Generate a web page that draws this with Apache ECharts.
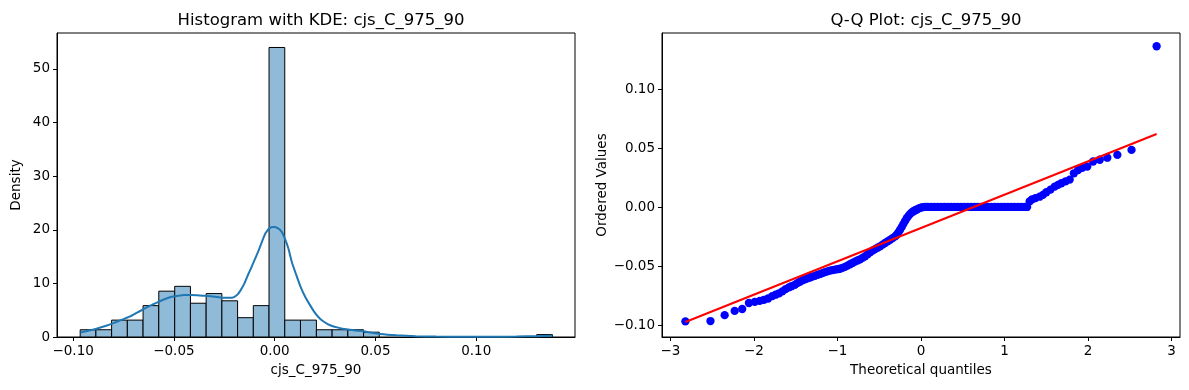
<!DOCTYPE html>
<html>
<head>
<meta charset="utf-8">
<script src="https://cdn.jsdelivr.net/npm/echarts@6/dist/echarts.min.js"></script>
<style>
html,body{margin:0;padding:0;background:#fff;}
#c{width:1189px;height:390px;}
</style>
</head>
<body>
<div id="c"></div>
<script>
// ---------- Histogram data ----------
const binEdges = [-0.0965,-0.0887,-0.0809,-0.0731,-0.0653,-0.0575,-0.0496,-0.0418,-0.0340,-0.0262,
  -0.0184,-0.0106,-0.0028,0.0050,0.0128,0.0207,0.0285,0.0363,0.0441,0.0519,
  0.0597,0.0675,0.0753,0.0831,0.0910,0.0988,0.1066,0.1144,0.1222,0.1300,0.1378];
const binDensity = [1.35,1.35,3.15,3.15,5.85,8.55,9.45,6.3,8.1,6.75,
  3.6,5.85,54.0,3.15,3.15,1.35,1.35,1.35,0.9,0,
  0,0,0,0,0,0,0,0,0,0.45];
// KDE curve
const kdeX = [-0.0963,-0.0920,-0.088,-0.084,-0.080,-0.076,-0.072,-0.0685,-0.065,-0.0615,-0.058,-0.055,-0.0516,-0.048,-0.045,-0.0417,-0.0384,-0.035,-0.0318,-0.0285,-0.0251,-0.022,-0.0202,-0.0185,-0.0171,-0.015,-0.013,-0.0113,-0.0097,-0.008,-0.0062,-0.0045,-0.0025,-0.0006,0.0015,0.0035,0.0052,0.0068,0.0085,0.0105,0.0126,0.015,0.0176,0.020,0.0225,0.0250,0.0275,0.0315,0.0357,0.040,0.044,0.048,0.0522,0.0605,0.070,0.080,0.090,0.100,0.110,0.120,0.130,0.1378];
const kdeY = [0.85,1.2,1.6,2.05,2.6,3.2,3.8,4.5,5.2,5.9,6.5,7.0,7.45,7.7,7.85,7.85,7.8,7.7,7.6,7.45,7.3,7.3,7.45,7.9,8.6,10.0,11.8,13.2,14.6,16.1,17.9,19.4,20.3,20.5,20.3,19.6,18.2,16.5,14.0,11.8,9.6,7.6,5.9,4.5,3.4,2.7,2.2,1.75,1.43,1.22,1.06,0.8,0.56,0.32,0.15,0.08,0.05,0.04,0.05,0.08,0.16,0.25];
const histXTicks = [-0.10,-0.05,0.00,0.05,0.10];
const histYTicks = [0,10,20,30,40,50];

// ---------- Q-Q data ----------
const qqTheoretical = [-2.82,-2.52,-2.35,-2.23,-2.14,-2.06,-1.99,-1.93,-1.88,-1.83,-1.78,-1.74,-1.70,-1.66,-1.62,-1.58,-1.55,-1.51,-1.48,-1.45,-1.42,-1.39,-1.36,-1.33,-1.30,-1.27,-1.24,-1.21,-1.18,-1.15,-1.12,-1.09,-1.06,-1.03,-1.00,-0.97,-0.94,-0.91,-0.88,-0.85,-0.82,-0.79,-0.76,-0.73,-0.70,-0.67,-0.64,-0.61,-0.58,-0.55,-0.52,-0.49,-0.46,-0.43,-0.40,-0.37,-0.34,-0.31,-0.29,-0.27,-0.25,-0.23,-0.21,-0.19,-0.17,-0.15,-0.13,-0.11,-0.09,-0.07,-0.05,-0.03,-0.01,0.01,0.03,0.05,
  0.08,0.12,0.16,0.20,0.24,0.28,0.32,0.36,0.40,0.44,0.48,0.52,0.56,0.60,0.64,0.68,0.72,0.76,0.80,0.84,0.88,0.92,0.96,1.00,1.04,1.08,1.12,1.16,1.20,1.24,1.27,
  1.30,1.33,1.37,1.42,1.46,1.50,1.55,1.60,1.64,1.68,1.73,1.78,1.83,1.88,1.93,1.99,2.06,2.14,2.23,2.35,2.52,2.82];
const qqOrdered = [-0.0966,-0.0963,-0.0913,-0.0877,-0.0861,-0.0810,-0.0801,-0.0792,-0.0783,-0.0772,-0.0752,-0.0740,-0.0728,-0.0712,-0.0692,-0.0677,-0.0668,-0.0656,-0.0642,-0.0630,-0.0618,-0.0610,-0.0602,-0.0594,-0.0586,-0.0580,-0.0572,-0.0565,-0.0557,-0.0549,-0.0542,-0.0536,-0.0531,-0.0527,-0.0524,-0.0520,-0.0513,-0.0504,-0.0494,-0.0482,-0.0471,-0.0460,-0.0450,-0.0440,-0.0428,-0.0415,-0.0398,-0.0382,-0.0367,-0.0354,-0.0342,-0.0330,-0.0316,-0.0302,-0.0288,-0.0275,-0.0261,-0.0246,-0.0232,-0.0212,-0.0190,-0.0166,-0.0140,-0.0115,-0.0092,-0.0072,-0.0056,-0.0043,-0.0033,-0.0025,-0.0018,-0.0011,-0.0005,0.0000,0.0002,0.0003,
  0.0003,0.0003,0.0003,0.0003,0.0003,0.0003,0.0003,0.0003,0.0003,0.0003,0.0003,0.0003,0.0003,0.0003,0.0003,0.0003,0.0003,0.0003,0.0003,0.0003,0.0003,0.0003,0.0003,0.0003,0.0003,0.0003,0.0003,0.0003,0.0003,0.0003,0.0003,
  0.0050,0.0068,0.0078,0.0090,0.0105,0.0128,0.0150,0.0175,0.0190,0.0204,0.0220,0.0235,0.0288,0.0315,0.0335,0.0345,0.0388,0.0403,0.0420,0.0444,0.0486,0.1364];
const fitLineX = [-2.82, 2.82];
const fitLineY = [-0.0971, 0.0621];
const qqXTicks = [-3,-2,-1,0,1,2,3];
const qqYTicks = [-0.10,-0.05,0.00,0.05,0.10];

// ---------- helpers ----------
const FONT = 'DejaVu Sans';
const minus = v => String(v).replace('-', '\u2212');
const fmt2 = v => minus(Number(v).toFixed(2));
const fmt0 = v => minus(Math.round(Number(v)));

function axisCommon(ticks, fmt, extra) {
  return Object.assign({
    type: 'value',
    splitLine: {show: false},
    axisLine: {show: true, onZero: false, lineStyle: {color: '#000', width: 1}},
    axisTick: {show: true, inside: false, length: 4, lineStyle: {color: '#000', width: 1}, customValues: ticks},
    axisLabel: {color: '#000', fontFamily: FONT, fontSize: 13.5, margin: 7, customValues: ticks, formatter: fmt},
    nameTextStyle: {color: '#000', fontFamily: FONT, fontSize: 13.5},
    nameLocation: 'middle'
  }, extra);
}

const histBars = binDensity.map((d, i) => [binEdges[i], binEdges[i + 1], d]).filter(r => r[2] > 0);
const kdeData = kdeX.map((x, i) => [x, kdeY[i]]);
const qqData = qqTheoretical.map((x, i) => [x, qqOrdered[i]]);
const fitData = fitLineX.map((x, i) => [x, fitLineY[i]]);

const chart = echarts.init(document.getElementById('c'), null, {renderer: 'canvas'});
chart.setOption({
  animation: false,
  backgroundColor: '#fff',
  title: [
    {text: 'Histogram with KDE: cjs_C_975_90', left: 316, top: 7, textAlign: 'center',
     textStyle: {fontFamily: FONT, fontSize: 16.5, fontWeight: 'normal', color: '#000'}},
    {text: 'Q-Q Plot: cjs_C_975_90', left: 921, top: 7, textAlign: 'center',
     textStyle: {fontFamily: FONT, fontSize: 16.5, fontWeight: 'normal', color: '#000'}}
  ],
  grid: [
    {left: 57, top: 33, width: 518, height: 304, show: true, borderColor: '#000', borderWidth: 1, backgroundColor: 'transparent'},
    {left: 662, top: 33, width: 518, height: 304, show: true, borderColor: '#000', borderWidth: 1, backgroundColor: 'transparent'}
  ],
  xAxis: [
    axisCommon(histXTicks, fmt2, {gridIndex: 0, min: -0.108, max: 0.149, name: 'cjs_C_975_90', nameGap: 26}),
    axisCommon(qqXTicks, fmt0, {gridIndex: 1, min: -3.10, max: 3.10, name: 'Theoretical quantiles', nameGap: 26})
  ],
  yAxis: [
    axisCommon(histYTicks, fmt0, {gridIndex: 0, min: 0, max: 56.7, name: 'Density', nameGap: 34, nameRotate: 90}),
    axisCommon(qqYTicks, fmt2, {gridIndex: 1, min: -0.1098, max: 0.1476, name: 'Ordered Values', nameGap: 52, nameRotate: 90})
  ],
  series: [
    {
      type: 'custom', xAxisIndex: 0, yAxisIndex: 0, data: histBars, z: 2,
      renderItem: function (params, api) {
        const p0 = api.coord([api.value(0), api.value(2)]);
        const p1 = api.coord([api.value(1), 0]);
        return {type: 'rect', shape: {x: p0[0], y: p0[1], width: p1[0] - p0[0], height: p1[1] - p0[1]},
          style: {fill: '#8fbbd9', stroke: '#000', lineWidth: 1}};
      }
    },
    {
      type: 'line', xAxisIndex: 0, yAxisIndex: 0, data: kdeData, showSymbol: false, smooth: 0.2, z: 3,
      lineStyle: {color: '#1f77b4', width: 2}
    },
    {
      type: 'scatter', xAxisIndex: 1, yAxisIndex: 1, data: qqData, symbolSize: 8.3, z: 2,
      itemStyle: {color: '#0000ff', opacity: 1}
    },
    {
      type: 'line', xAxisIndex: 1, yAxisIndex: 1, data: fitData, showSymbol: false, z: 3,
      lineStyle: {color: '#ff0000', width: 2}
    }
  ]
});
</script>
</body>
</html>
